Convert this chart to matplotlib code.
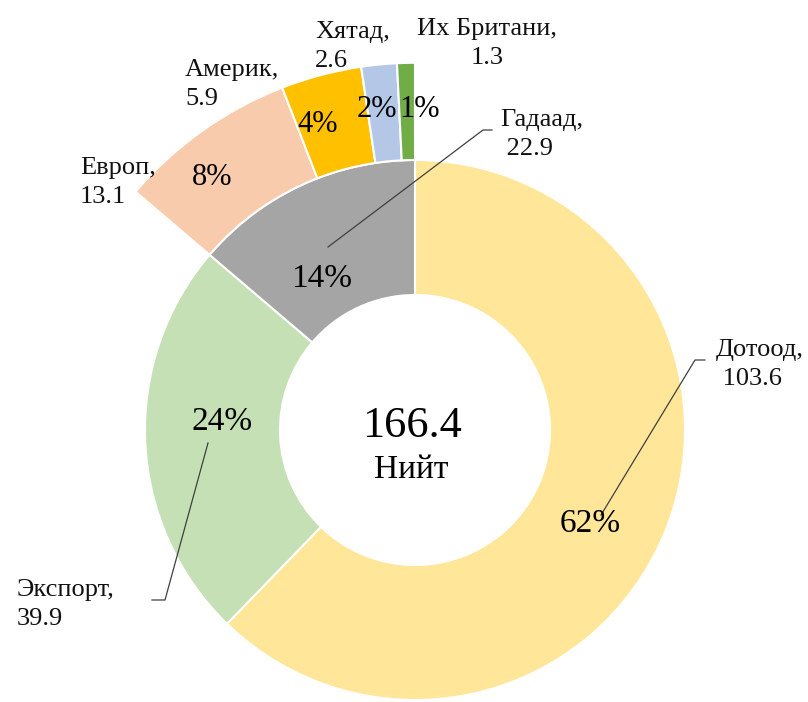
import matplotlib.pyplot as plt

plt.rcParams['font.family'] = ['Liberation Serif', 'DejaVu Serif']

# --- Data ---
inner_labels = ['Дотоод', 'Экспорт', 'Гадаад']
inner_values = [103.6, 39.9, 22.9]
inner_colors = ['#FFE699', '#C5E0B4', '#A5A5A5']

# breakdown of "Гадаад"
outer_labels = ['Европ', 'Америк', 'Хятад', 'Их Британи']
outer_values = [13.1, 5.9, 2.6, 1.3]
outer_colors = ['#F8CBAD', '#FFC000', '#B4C7E7', '#70AD47']

total = sum(inner_values)

# --- Layout (reference pixel coords -> data units) ---
W, H = 808, 702
CX, CY, R = 415, 430, 270


def P(px, py):
    return (px - CX) / R, (CY - py) / R


fig = plt.figure(figsize=(W / 100, H / 100), dpi=100)
ax = fig.add_axes([0, 0, 1, 1])

# inner donut
wedges, _ = ax.pie(inner_values, radius=1.0, startangle=90, counterclock=False,
                   colors=inner_colors,
                   wedgeprops=dict(width=0.5, edgecolor='white', linewidth=1.5))

# outer ring sits on top of the "Гадаад" slice
hidden = inner_values[0] + inner_values[1]
owedges, _ = ax.pie([hidden] + outer_values, radius=1.36, startangle=90, counterclock=False,
                    colors=['white'] + outer_colors,
                    wedgeprops=dict(width=0.36, edgecolor='white', linewidth=1.5))
owedges[0].set_visible(False)

# --- percent labels (center x, baseline y) ---
pct_pos = {
    'Дотоод': (590, 532), 'Экспорт': (222, 430), 'Гадаад': (322, 287),
    'Европ': (212, 185), 'Америк': (318, 132), 'Хятад': (377, 117), 'Их Британи': (420, 117),
}
for lab, v in zip(inner_labels + outer_labels, inner_values + outer_values):
    fs = 24 if lab in inner_labels else 22
    x, y = P(*pct_pos[lab])
    ax.text(x, y, f"{round(v / total * 100)}%", ha='center', va='baseline',
            fontsize=fs, color='black')

# --- category labels (x, last-line baseline, alignment) ---
name_pos = {
    'Дотоод': (716, 385, 'left', ' '), 'Экспорт': (17, 625, 'left', ''),
    'Гадаад': (500, 155, 'left', ' '), 'Европ': (80, 203, 'left', ''),
    'Америк': (185, 105, 'left', ''), 'Хятад': (315, 67, 'left', ''),
    'Их Британи': (487, 64, 'center', ''),
}
for lab, v in zip(inner_labels + outer_labels, inner_values + outer_values):
    px, py, ha, pad = name_pos[lab]
    x, y = P(px, py)
    ax.text(x, y, f"{lab},\n{pad}{v}", ha=ha, va='baseline', multialignment=ha,
            fontsize=19, color='#111111', linespacing=1.4)

# --- leader lines ---
leaders = [
    [(705, 360), (695, 360), (601, 515)],
    [(152, 600), (165, 600), (208, 443)],
    [(492, 130), (483, 130), (328, 247)],
]
for pts in leaders:
    xy = [P(*p) for p in pts]
    ax.plot([p[0] for p in xy], [p[1] for p in xy], color='#404040', lw=0.9)

# --- center total ---
x, y = P(412, 437)
ax.text(x, y, f"{total:.1f}", ha='center', va='baseline', fontsize=32)
x, y = P(411, 478)
ax.text(x, y, 'Нийт', ha='center', va='baseline', fontsize=24)

ax.set_xlim(-CX / R, (W - CX) / R)
ax.set_ylim(-(H - CY) / R, CY / R)
ax.set_aspect('equal')
ax.set_axis_off()

plt.savefig('out.png', dpi=100)
